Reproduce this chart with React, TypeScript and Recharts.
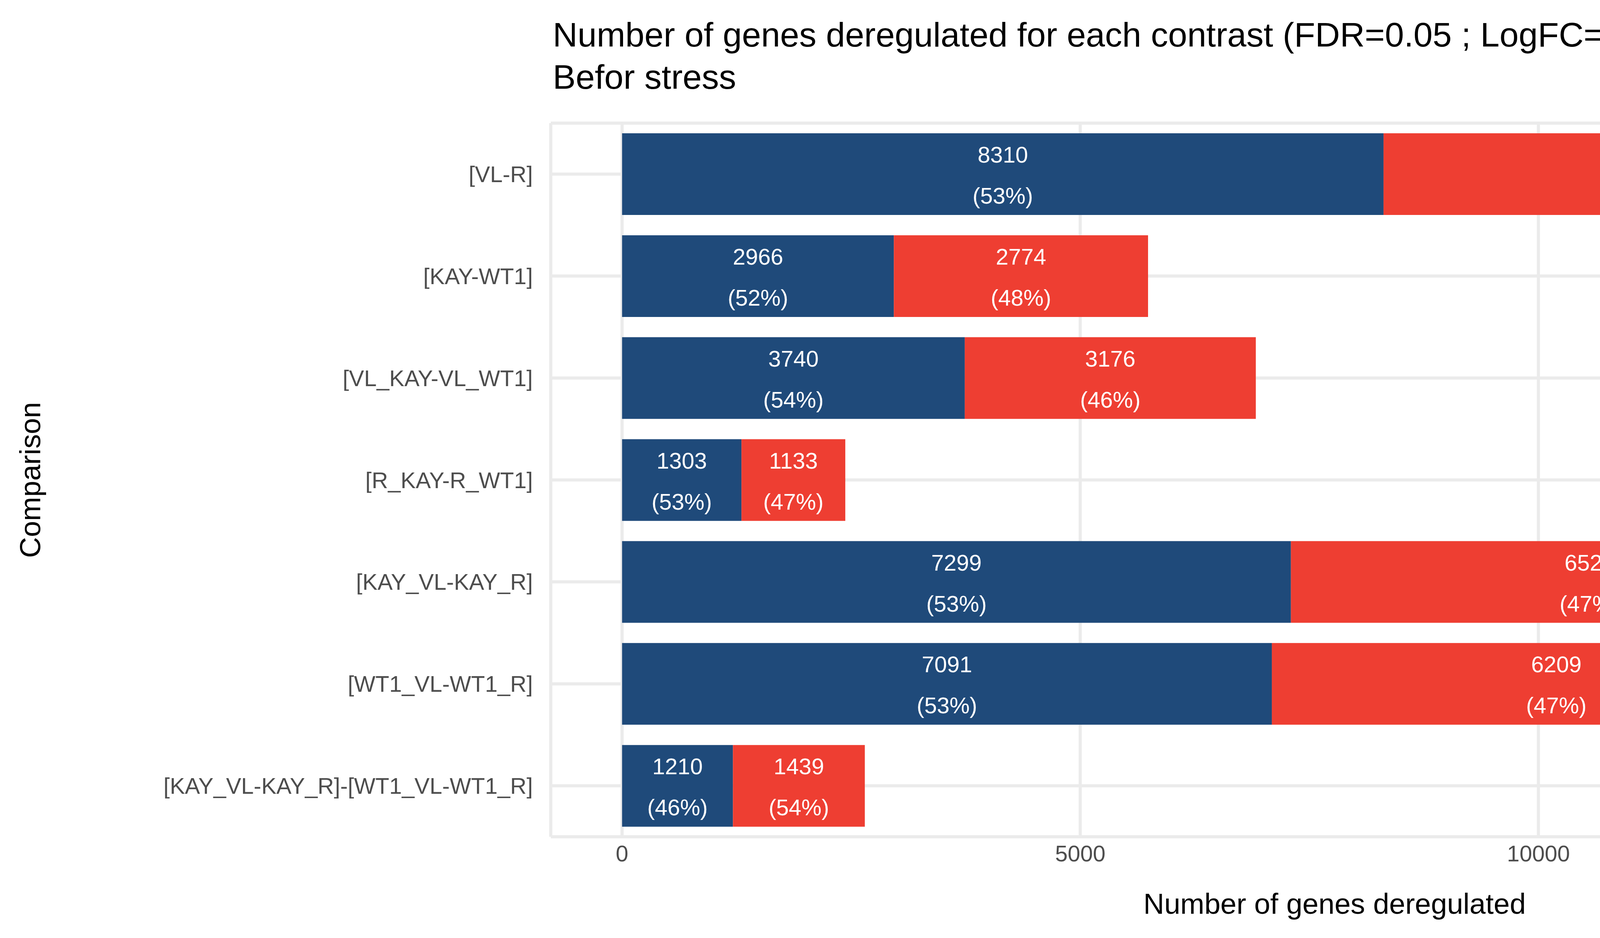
import React from 'react';
import { BarChart, Bar, XAxis, YAxis, CartesianGrid, LabelList } from 'recharts';

const categories = ['[VL-R]', '[KAY-WT1]', '[VL_KAY-VL_WT1]', '[R_KAY-R_WT1]', '[KAY_VL-KAY_R]', '[WT1_VL-WT1_R]', '[KAY_VL-KAY_R]-[WT1_VL-WT1_R]'];
const downValues = [8310, 2966, 3740, 1303, 7299, 7091, 1210];
const upValues = [7241, 2774, 3176, 1133, 6523, 6209, 1439];
const majorTicks = [0, 5000, 10000, 15000];
const minorTicks = [2500, 7500, 12500];

const data = categories.map((c, i) => ({
  name: c,
  Down: downValues[i],
  Up: upValues[i],
  downPct: Math.round((100 * downValues[i]) / (downValues[i] + upValues[i])),
  upPct: Math.round((100 * upValues[i]) / (downValues[i] + upValues[i])),
}));

const FONT = '"Liberation Sans", Arial, sans-serif';
const BLUE = '#1F4A7A';
const RED = '#EE3E32';
const DOMAIN: [number, number] = [-778, 16329];

const makeLabel = (key: 'downPct' | 'upPct', valKey: 'Down' | 'Up') => (props: any) => {
  const { x, y, width, height, index } = props;
  const d = data[index];
  const cx = x + width / 2;
  const cy = y + height / 2;
  return (
    <g>
      <text x={cx} y={cy - 50} textAnchor="middle" dominantBaseline="central" fill="#fff" fontSize={58} fontFamily={FONT}>{d[valKey]}</text>
      <text x={cx} y={cy + 55} textAnchor="middle" dominantBaseline="central" fill="#fff" fontSize={58} fontFamily={FONT}>({d[key]}%)</text>
    </g>
  );
};

const YTick = (props: any) => {
  const { x, y, payload } = props;
  return (
    <text x={x} y={y} textAnchor="end" dominantBaseline="central" fill="#4D4D4D" fontSize={58} fontFamily={FONT}>{payload.value}</text>
  );
};

const XTick = (props: any) => {
  const { x, y, payload } = props;
  return (
    <text x={x} y={y + 55} textAnchor="middle" fill="#4D4D4D" fontSize={58} fontFamily={FONT}>{payload.value}</text>
  );
};

export default function App() {
  return (
    <div style={{ position: 'absolute', left: 0, top: 0, width: 6000, height: 2400, background: '#fff', fontFamily: FONT }}>
      <BarChart width={6000} height={2400} data={data} layout="vertical" barCategoryGap="10%" margin={{ top: 315, bottom: 0, left: 0, right: 577 }}>
        <CartesianGrid xAxisId="minor" horizontal={false} vertical={true} stroke="#EBEBEB" strokeWidth={4} />
        <CartesianGrid horizontal={true} vertical={true} stroke="#EBEBEB" strokeWidth={8} />
        <XAxis xAxisId="minor" type="number" domain={DOMAIN} ticks={minorTicks} axisLine={false} tickLine={false} tick={false} height={0} orientation="top" />
        <XAxis type="number" domain={DOMAIN} ticks={majorTicks} axisLine={false} tickLine={false} tick={<XTick />} height={259} />
        <YAxis type="category" dataKey="name" width={1410} axisLine={false} tickLine={false} tick={<YTick />} tickMargin={40} />
        <Bar dataKey="Down" stackId="a" fill={BLUE} isAnimationActive={false}>
          <LabelList content={makeLabel('downPct', 'Down')} />
        </Bar>
        <Bar dataKey="Up" stackId="a" fill={RED} isAnimationActive={false}>
          <LabelList content={makeLabel('upPct', 'Up')} />
        </Bar>
      </BarChart>
      <div style={{ position: 'absolute', left: 1415, top: 35, fontSize: 88, lineHeight: '108px', color: '#000' }}>
        Number of genes deregulated for each contrast (FDR=0.05 ; LogFC=0)<br />Befor stress
      </div>
      <div style={{ position: 'absolute', left: 1410, width: 4013, top: 2270, textAlign: 'center', fontSize: 74, color: '#000' }}>
        Number of genes deregulated
      </div>
      <div style={{ position: 'absolute', left: 77, top: 1228, transform: 'translate(-50%,-50%) rotate(-90deg)', fontSize: 74, color: '#000', whiteSpace: 'nowrap' }}>
        Comparison
      </div>
      <div style={{ position: 'absolute', left: 5565, top: 1020, fontSize: 74, color: '#000' }}>Sign</div>
      <div style={{ position: 'absolute', left: 5565, top: 1157, width: 132, height: 130, background: RED }} />
      <div style={{ position: 'absolute', left: 5565, top: 1301, width: 132, height: 132, background: BLUE }} />
      <div style={{ position: 'absolute', left: 5746, top: 1222, transform: 'translateY(-50%)', fontSize: 58, color: '#000' }}>Up</div>
      <div style={{ position: 'absolute', left: 5746, top: 1367, transform: 'translateY(-50%)', fontSize: 58, color: '#000' }}>Down</div>
    </div>
  );
}
